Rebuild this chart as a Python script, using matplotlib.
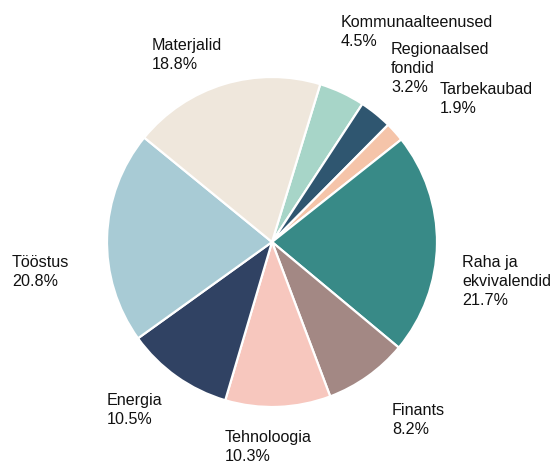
import matplotlib
matplotlib.use("Agg")
import matplotlib.pyplot as plt

plt.rcParams['font.family'] = ['Liberation Sans', 'DejaVu Sans']

categories = ["Kommunaalteenused", "Regionaalsed\nfondid", "Tarbekaubad",
              "Raha ja\nekvivalendid", "Finants", "Tehnoloogia", "Energia",
              "Tööstus", "Materjalid"]
values = [4.5, 3.2, 1.9, 21.7, 8.2, 10.3, 10.5, 20.8, 18.8]
colors = ["#a7d5c8", "#2f5670", "#f5c4a9", "#388a87", "#a38884",
          "#f7c7be", "#304263", "#a8cbd5", "#efe7dc"]

# label anchor positions (pixels from top-left: left edge, cap top)
label_pos = [(341, 15), (391, 42), (440, 82), (462, 255), (392, 403),
             (225, 430), (107, 393), (12, 255), (152, 38)]
line_step = 19.3

W, H = 552, 463
fig = plt.figure(figsize=(W / 100, H / 100), dpi=100)
cx, cy, r = 272, 242, 165
ax = fig.add_axes([(cx - r) / W, (H - cy - r) / H, 2 * r / W, 2 * r / H])
ax.pie(values, colors=colors, startangle=73, counterclock=False,
       radius=1.0, wedgeprops=dict(edgecolor="white", linewidth=1.6))
ax.set_xlim(-1, 1)
ax.set_ylim(-1, 1)
ax.set_aspect("equal")
ax.axis("off")

for cat, val, (px, py) in zip(categories, values, label_pos):
    lines = cat.split("\n") + [f"{val:.1f}%"]
    for i, line in enumerate(lines):
        # baseline = cap top + cap height (~0.716 em, em = 11.6pt -> 16.1px)
        base = py + i * line_step + 11.6
        fig.text(px / W, 1 - base / H, line, ha="left", va="baseline",
                 fontsize=11.6, color="#111111")

fig.savefig("out.png", dpi=100)
